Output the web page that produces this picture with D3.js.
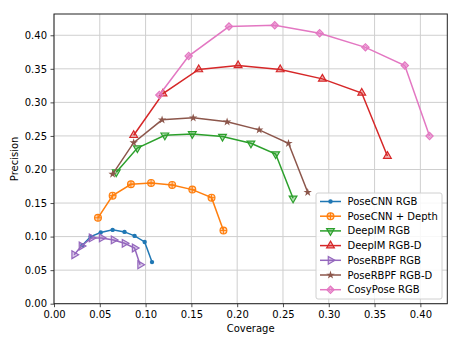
<!DOCTYPE html>
<html>
<head>
<meta charset="utf-8">
<script src="https://cdn.jsdelivr.net/npm/d3@7"></script>
<style>
  html, body { margin: 0; padding: 0; background: #fff; }
  svg { display: block; font-family: "DejaVu Sans", sans-serif; }
</style>
</head>
<body>
<svg id="chart" width="461" height="346"></svg>
<script>
// Precision / coverage curves per method
const seriesNames = ["PoseCNN RGB", "PoseCNN + Depth", "DeepIM RGB", "DeepIM RGB-D",
                     "PoseRBPF RGB", "PoseRBPF RGB-D", "CosyPose RGB"];

const poseCnnRgbX   = [0.031, 0.040, 0.051, 0.064, 0.077, 0.088, 0.099, 0.107];
const poseCnnRgbY   = [0.087, 0.100, 0.106, 0.110, 0.107, 0.101, 0.092, 0.062];
const poseCnnDepthX = [0.048, 0.064, 0.084, 0.106, 0.129, 0.151, 0.172, 0.185];
const poseCnnDepthY = [0.128, 0.161, 0.178, 0.180, 0.177, 0.170, 0.158, 0.109];
const deepImRgbX    = [0.068, 0.091, 0.121, 0.151, 0.184, 0.215, 0.242, 0.261];
const deepImRgbY    = [0.196, 0.232, 0.251, 0.253, 0.249, 0.239, 0.223, 0.157];
const deepImRgbdX   = [0.087, 0.119, 0.158, 0.201, 0.247, 0.293, 0.336, 0.364];
const deepImRgbdY   = [0.251, 0.313, 0.349, 0.355, 0.349, 0.335, 0.314, 0.220];
const poseRbpfRgbX  = [0.022, 0.030, 0.041, 0.052, 0.065, 0.077, 0.088, 0.094];
const poseRbpfRgbY  = [0.073, 0.086, 0.098, 0.098, 0.095, 0.090, 0.083, 0.058];
const poseRbpfRgbdX = [0.064, 0.087, 0.118, 0.152, 0.189, 0.224, 0.256, 0.277];
const poseRbpfRgbdY = [0.193, 0.240, 0.274, 0.277, 0.271, 0.259, 0.239, 0.166];
const cosyPoseX     = [0.115, 0.147, 0.191, 0.241, 0.290, 0.340, 0.383, 0.410];
const cosyPoseY     = [0.311, 0.369, 0.413, 0.415, 0.403, 0.382, 0.355, 0.250];

const xTicks = [0.00, 0.05, 0.10, 0.15, 0.20, 0.25, 0.30, 0.35, 0.40];
const yTicks = [0.00, 0.05, 0.10, 0.15, 0.20, 0.25, 0.30, 0.35, 0.40];

const colors  = ["#1f77b4", "#ff7f0e", "#2ca02c", "#d62728", "#9467bd", "#8c564b", "#e377c2"];
const markers = ["point", "circle", "triDown", "triUp", "triRight", "star", "diamond"];

const seriesX = [poseCnnRgbX, poseCnnDepthX, deepImRgbX, deepImRgbdX, poseRbpfRgbX, poseRbpfRgbdX, cosyPoseX];
const seriesY = [poseCnnRgbY, poseCnnDepthY, deepImRgbY, deepImRgbdY, poseRbpfRgbY, poseRbpfRgbdY, cosyPoseY];
const series = seriesNames.map((name, i) => ({
  name, color: colors[i], marker: markers[i],
  points: seriesX[i].map((x, j) => ({ x, y: seriesY[i][j] }))
}));

const svg = d3.select("#chart");
const plot = { left: 54, right: 447.3, top: 14, bottom: 303.7 };
const fontSize = "10px";

const x = d3.scaleLinear().domain([0, 0.4294]).range([plot.left, plot.right]);
const y = d3.scaleLinear().domain([0, 0.4317]).range([plot.bottom, plot.top]);

// grid
const grid = svg.append("g");
grid.selectAll("line.gx").data(xTicks).join("line")
  .attr("x1", d => x(d)).attr("x2", d => x(d))
  .attr("y1", plot.top).attr("y2", plot.bottom)
  .attr("stroke", "#cfcfcf").attr("stroke-width", 1);
grid.selectAll("line.gy").data(yTicks).join("line")
  .attr("y1", d => y(d)).attr("y2", d => y(d))
  .attr("x1", plot.left).attr("x2", plot.right)
  .attr("stroke", "#cfcfcf").attr("stroke-width", 1);

// axes
const fmt = d3.format(".2f");
const xAxis = svg.append("g").attr("transform", `translate(0,${plot.bottom})`)
  .call(d3.axisBottom(x).tickValues(xTicks).tickFormat(fmt).tickSize(3.5).tickPadding(3.5));
const yAxis = svg.append("g").attr("transform", `translate(${plot.left},0)`)
  .call(d3.axisLeft(y).tickValues(yTicks).tickFormat(fmt).tickSize(3.5).tickPadding(3.5));
[xAxis, yAxis].forEach(a => {
  a.select(".domain").remove();
  a.selectAll(".tick line").attr("stroke", "#222").attr("stroke-width", 0.8);
  a.selectAll(".tick text").attr("fill", "#000").attr("font-size", fontSize)
    .attr("font-family", "DejaVu Sans, sans-serif");
});

// spines
svg.append("rect")
  .attr("x", plot.left).attr("y", plot.top)
  .attr("width", plot.right - plot.left).attr("height", plot.bottom - plot.top)
  .attr("fill", "none").attr("stroke", "#222").attr("stroke-width", 1);

// axis titles
svg.append("text").attr("x", (plot.left + plot.right) / 2).attr("y", 332)
  .attr("text-anchor", "middle").attr("font-size", fontSize).text("Coverage");
svg.append("text").attr("transform", `translate(18,${(plot.top + plot.bottom) / 2}) rotate(-90)`)
  .attr("text-anchor", "middle").attr("font-size", fontSize).text("Precision");

// marker drawing
function drawMarker(g, kind, color, cx, cy) {
  const m = g.append("g").attr("transform", `translate(${cx},${cy})`);
  const light = d3.color(color).copy({ opacity: 0.35 });
  switch (kind) {
    case "point":
      m.append("circle").attr("r", 2.2).attr("fill", color);
      break;
    case "circle":
      m.append("circle").attr("r", 3.4).attr("fill", light).attr("stroke", color).attr("stroke-width", 1.2);
      m.append("path").attr("d", "M-3.4,0H3.4M0,-3.4V3.4").attr("stroke", color).attr("stroke-width", 1);
      break;
    case "triUp":
    case "triDown":
    case "triRight": {
      const rot = kind === "triUp" ? 0 : kind === "triDown" ? 180 : 90;
      m.append("path").attr("d", d3.symbol(d3.symbolTriangle, 26)())
        .attr("transform", `rotate(${rot})`)
        .attr("fill", light).attr("stroke", color).attr("stroke-width", 1.2);
      break;
    }
    case "star":
      m.append("path").attr("d", d3.symbol(d3.symbolStar, 22)()).attr("fill", color);
      break;
    case "diamond":
      m.append("path").attr("d", d3.symbol(d3.symbolSquare, 26)()).attr("transform", "rotate(45)")
        .attr("fill", light).attr("stroke", color).attr("stroke-width", 1.2);
      m.append("path").attr("d", d3.symbol(d3.symbolSquare, 8)()).attr("transform", "rotate(45)")
        .attr("fill", "none").attr("stroke", color).attr("stroke-width", 0.8);
      break;
  }
}

// series lines + markers
const line = d3.line().x(d => x(d.x)).y(d => y(d.y));
series.forEach(s => {
  const g = svg.append("g");
  g.append("path").datum(s.points).attr("d", line)
    .attr("fill", "none").attr("stroke", s.color).attr("stroke-width", 1.5);
  s.points.forEach(p => drawMarker(g, s.marker, s.color, x(p.x), y(p.y)));
});

// legend
const leg = svg.append("g");
leg.append("rect").attr("x", 316).attr("y", 193).attr("width", 126).attr("height", 106)
  .attr("rx", 2).attr("fill", "#fff").attr("fill-opacity", 0.85)
  .attr("stroke", "#d0d0d0").attr("stroke-width", 1);
series.forEach((s, i) => {
  const ly = 201.5 + i * 14.7;
  leg.append("line").attr("x1", 320).attr("x2", 341).attr("y1", ly).attr("y2", ly)
    .attr("stroke", s.color).attr("stroke-width", 1.5);
  drawMarker(leg, s.marker, s.color, 330.5, ly);
  leg.append("text").attr("x", 347.5).attr("y", ly).attr("dy", "0.35em")
    .attr("font-size", fontSize).text(s.name);
});
</script>
</body>
</html>
